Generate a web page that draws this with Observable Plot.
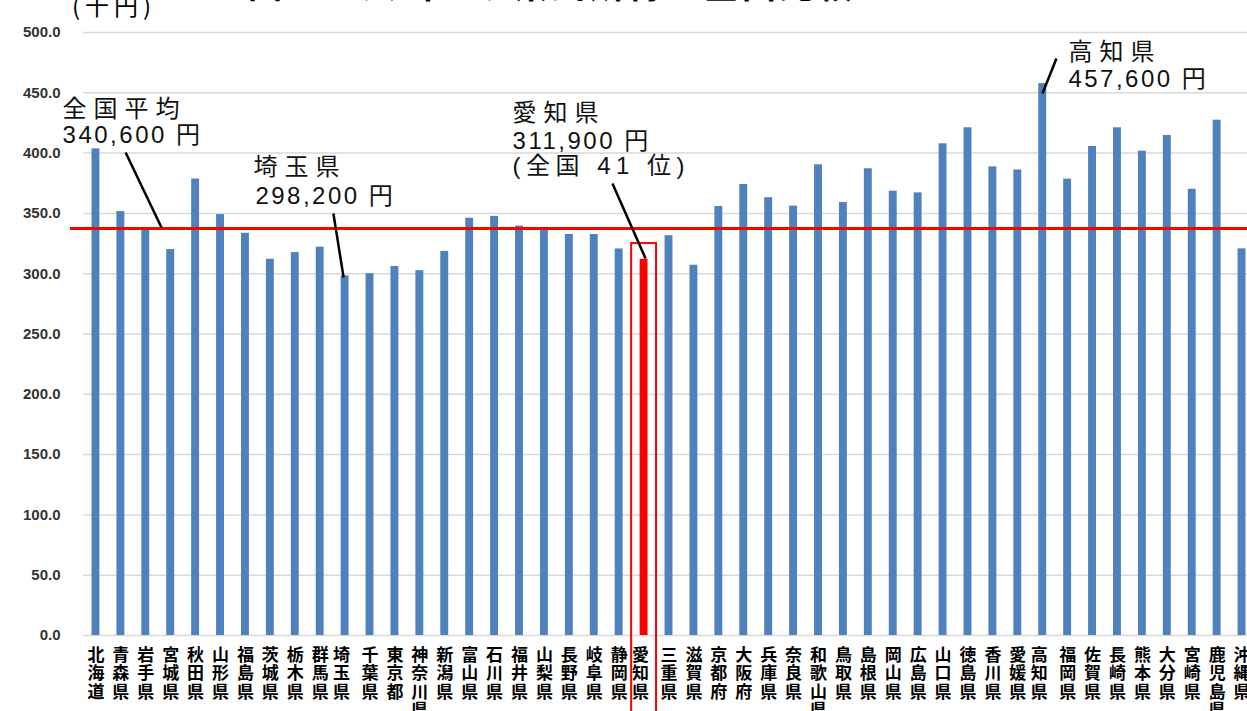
<!DOCTYPE html>
<html lang="ja">
<head>
<meta charset="utf-8">
<script src="https://cdn.jsdelivr.net/npm/d3@7"></script>
<script src="https://cdn.jsdelivr.net/npm/@observablehq/plot@0.6"></script>
<style>
  html, body { margin: 0; padding: 0; background: #fff; overflow: hidden; }
  #wrap { position: relative; width: 1300px; height: 711px; }
  #chart { position: absolute; left: 0; top: 0; }
  #chart svg { max-width: none; overflow: visible; }
  #title { position: absolute; left: 248px; top: -41px; font-family: "Noto Sans CJK JP", sans-serif; font-weight: bold; font-size: 34px; letter-spacing: 4px; white-space: pre; color: #000; }
  #unit { position: absolute; left: 72px; top: -13px; font-family: "Noto Sans CJK JP", sans-serif; font-size: 24px; letter-spacing: 5px; color: #000; }
</style>
</head>
<body>
<div id="wrap">
  <div id="chart"></div>
  <div id="title">図　１人当たり県民所得の全国比較</div>
  <div id="unit">(千円)</div>
</div>
<script>
// ---- data (千円) ----
const prefectures = ["北海道","青森県","岩手県","宮城県","秋田県","山形県","福島県","茨城県","栃木県","群馬県",
  "埼玉県","千葉県","東京都","神奈川県","新潟県","富山県","石川県","福井県","山梨県","長野県",
  "岐阜県","静岡県","愛知県","三重県","滋賀県","京都府","大阪府","兵庫県","奈良県","和歌山県",
  "鳥取県","島根県","岡山県","広島県","山口県","徳島県","香川県","愛媛県","高知県","福岡県",
  "佐賀県","長崎県","熊本県","大分県","宮崎県","鹿児島県","沖縄県"];
const incomes = [403.5,351.5,338.0,320.0,378.5,349.0,333.5,312.0,317.5,322.0,
  298.2,300.0,306.0,302.5,318.5,346.0,347.5,339.5,336.5,332.5,
  332.5,320.5,311.9,331.5,307.0,355.7,374.0,363.0,356.0,390.3,
  359.0,387.0,368.4,367.0,407.7,421.0,388.6,386.0,457.6,378.4,
  405.5,421.0,401.6,414.6,370.0,427.3,320.6];
const nationalAverageLine = 337.5;
const highlighted = "愛知県";
const yTicks = [0,50,100,150,200,250,300,350,400,450,500];

// annotation texts (positions in index / value units)
const annotHeads = [
  {text: "全国平均", x: -1.34, y: 436},
  {text: "埼玉県",   x: 6.32,  y: 388},
  {text: "愛知県",   x: 16.72, y: 433},
  {text: "高知県",   x: 39.03, y: 483.8}
];
const annotValues = [
  {text: "340,600 円", x: -1.34, y: 414.6},
  {text: "298,200 円", x: 6.40,  y: 364},
  {text: "311,900 円", x: 16.72, y: 409.6},
  {text: "(全国 41 位)", x: 16.72, y: 388.9},
  {text: "457,600 円", x: 39.03, y: 461}
];
const leaders = [
  {x1: 1.19,  y1: 400.5, x2: 2.63,  y2: 338.3},
  {x1: 9.53,  y1: 349.9, x2: 9.94,  y2: 296.8},
  {x1: 20.73, y1: 374.8, x2: 22.06, y2: 312.6},
  {x1: 38.55, y1: 478.4, x2: 37.99, y2: 449.4}
];

const data = prefectures.map((name, i) => ({name, i, value: incomes[i]}));
const hi = data.find(d => d.name === highlighted);

const chart = Plot.plot({
  width: 1254,
  height: 711,
  marginTop: 32,
  marginBottom: 76,
  marginLeft: 83,
  marginRight: 0,
  style: {background: "white", fontFamily: "'Liberation Sans', Arial, sans-serif", overflow: "visible"},
  x: {domain: [-0.5, prefectures.length - 0.5], axis: null},
  y: {domain: [0, 500], axis: null},
  color: {type: "identity"},
  marks: [
    Plot.gridY(yTicks, {stroke: "#d9d9d9", strokeOpacity: 1, strokeWidth: 1.5}),
    Plot.axisY(yTicks, {
      tickSize: 0, tickPadding: 23, tickFormat: d => d.toFixed(1),
      fontSize: 15, fontWeight: "bold", fontFamily: "'Liberation Sans Narrow', 'Liberation Sans', Arial, sans-serif",
      fill: "#333"
    }),
    Plot.rectY(data, {
      x1: d => d.i - 0.5, x2: d => d.i + 0.5, y: "value",
      insetLeft: 8.5, insetRight: 8.5,
      fill: d => d.name === highlighted ? "#ff0000" : "#4f81bd"
    }),
    Plot.ruleY([nationalAverageLine], {stroke: "#ff0000", strokeWidth: 3, insetLeft: -13}),
    Plot.rect([hi], {
      x1: d => d.i - 0.5, x2: d => d.i + 0.5, y1: 325, y2: -70,
      fill: "none", stroke: "#ff0000", strokeWidth: 2
    }),
    Plot.text(data, {
      x: "i", y: () => 0, text: d => [...d.name].join("\n"),
      lineAnchor: "top", dy: 12, lineHeight: 1.09,
      fontSize: 17, fontWeight: "bold", fill: "#000",
      fontFamily: "'Noto Sans CJK JP', sans-serif"
    }),
    Plot.link(leaders, {x1: "x1", y1: "y1", x2: "x2", y2: "y2", stroke: "#000", strokeWidth: 2.5}),
    Plot.text(annotHeads, {
      x: "x", y: "y", text: "text", textAnchor: "start", lineAnchor: "middle",
      fontSize: 24, fill: "#111", fontFamily: "'Noto Sans CJK JP', sans-serif"
    }),
    Plot.text(annotValues, {
      x: "x", y: "y", text: "text", textAnchor: "start", lineAnchor: "middle",
      fontSize: 24, fill: "#111", fontFamily: "'Liberation Sans', 'Noto Sans CJK JP', sans-serif"
    })
  ]
});
document.getElementById("chart").appendChild(chart);

// letter spacing for the annotation texts
const headSet = new Set(annotHeads.map(d => d.text));
const valueSet = new Set(annotValues.map(d => d.text));
chart.querySelectorAll("text").forEach(t => {
  const s = t.textContent;
  if (headSet.has(s)) t.style.letterSpacing = "7px";
  else if (s.startsWith("(")) t.style.letterSpacing = "5.5px";
  else if (valueSet.has(s)) t.style.letterSpacing = "2.5px";
});
</script>
</body>
</html>
